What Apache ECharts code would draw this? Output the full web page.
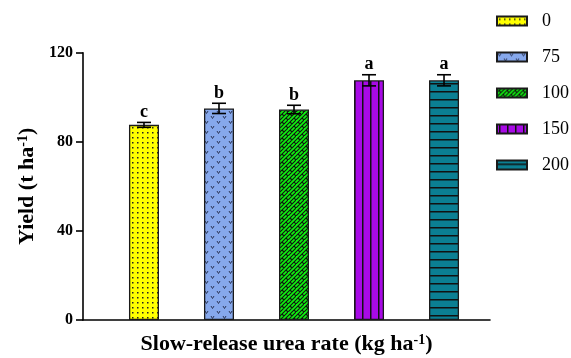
<!DOCTYPE html>
<html>
<head>
<meta charset="utf-8">
<script src="https://cdn.jsdelivr.net/npm/echarts@6/dist/echarts.min.js"></script>
<style>
    html, body { margin: 0; background: #ffffff; }
    #chart { width: 571px; height: 358px; }
</style>
</head>
<body>
<div id="chart"></div>
<script>
const rates = ["0", "75", "100", "150", "200"];
const yieldMeans = [87.6, 95.0, 94.5, 107.6, 107.6];
const yieldErrors = [1.1, 2.3, 1.9, 2.5, 2.5];
const groupLetters = ["c", "b", "b", "a", "a"];

const FONT = "Liberation Serif";

function makeTile(w, h, draw) {
    const canvas = document.createElement("canvas");
    canvas.width = w;
    canvas.height = h;
    draw(canvas.getContext("2d"), w, h);
    return canvas;
}

// fill patterns for each rate
const tiles = [
    makeTile(5, 5, (ctx, w, h) => {
        ctx.fillStyle = "#ffff00";
        ctx.fillRect(0, 0, w, h);
        ctx.fillStyle = "#222";
        ctx.fillRect(2, 2, 1.5, 1.5);
    }),
    makeTile(12, 10, (ctx, w, h) => {
        ctx.fillStyle = "#86a8ec";
        ctx.fillRect(0, 0, w, h);
        ctx.strokeStyle = "#2c3658";
        ctx.lineWidth = 1;
        const v = (x, y) => {
            ctx.beginPath();
            ctx.moveTo(x, y);
            ctx.lineTo(x + 1.5, y + 2.5);
            ctx.lineTo(x + 3, y);
            ctx.stroke();
        };
        v(1, 1);
        v(7, 6);
    }),
    makeTile(8, 8, (ctx, w, h) => {
        ctx.fillStyle = "#10f010";
        ctx.fillRect(0, 0, w, h);
        ctx.strokeStyle = "#111";
        ctx.lineWidth = 1.1;
        ctx.beginPath();
        ctx.moveTo(-2, 10); ctx.lineTo(10, -2);
        ctx.moveTo(-2, 6); ctx.lineTo(6, -2);
        ctx.moveTo(2, 10); ctx.lineTo(10, 2);
        ctx.moveTo(2, 2); ctx.lineTo(4, 4);
        ctx.moveTo(6, 6); ctx.lineTo(8, 8);
        ctx.stroke();
    }),
    makeTile(8, 4, (ctx, w, h) => {
        ctx.fillStyle = "#a80ae6";
        ctx.fillRect(0, 0, w, h);
        ctx.fillStyle = "#111";
        ctx.fillRect(2, 0, 1.5, h);
    }),
    makeTile(4, 8, (ctx, w, h) => {
        ctx.fillStyle = "#0b7f93";
        ctx.fillRect(0, 0, w, h);
        ctx.fillStyle = "#111";
        ctx.fillRect(0, 3, w, 1.5);
    })
];

const chart = echarts.init(document.getElementById("chart"));

const barSeries = rates.map((rate, i) => ({
    name: rate,
    type: "bar",
    barWidth: 30,
    barGap: "-100%",
    data: [[i, yieldMeans[i]]],
    itemStyle: {
        color: { image: tiles[i], repeat: "repeat" },
        borderColor: "#1a1a1a",
        borderWidth: 1.3
    }
}));

const errorSeries = {
    type: "custom",
    z: 5,
    data: yieldMeans.map((m, i) => [i, m, yieldErrors[i]]),
    renderItem: (params, api) => {
        const x = api.value(0);
        const m = api.value(1);
        const e = api.value(2);
        const top = api.coord([x, m + e]);
        const bot = api.coord([x, m - e]);
        const hw = 7;
        const lineStyle = { stroke: "#000", lineWidth: 1.6 };
        return {
            type: "group",
            children: [
                { type: "line", shape: { x1: top[0], y1: top[1], x2: bot[0], y2: bot[1] }, style: lineStyle },
                { type: "line", shape: { x1: top[0] - hw, y1: top[1], x2: top[0] + hw, y2: top[1] }, style: lineStyle },
                { type: "line", shape: { x1: bot[0] - hw, y1: bot[1], x2: bot[0] + hw, y2: bot[1] }, style: lineStyle },
                {
                    type: "text",
                    style: {
                        text: groupLetters[params.dataIndex],
                        x: top[0],
                        y: top[1] - 1,
                        align: "center",
                        verticalAlign: "bottom",
                        font: `bold 18px "${FONT}"`,
                        fill: "#000"
                    }
                }
            ]
        };
    }
};

chart.setOption({
    animation: false,
    textStyle: { fontFamily: FONT },
    grid: {
        left: 83,
        right: 81,
        top: 52.7,
        bottom: 38,
        outerBoundsMode: "none"
    },
    legend: {
        orient: "vertical",
        left: 496,
        top: 12,
        padding: 0,
        itemWidth: 30,
        itemHeight: 9,
        itemGap: 18,
        icon: "rect",
        data: rates,
        textStyle: {
            fontFamily: FONT,
            fontSize: 18,
            color: "#000",
            padding: [0, 0, 0, 10]
        }
    },
    xAxis: {
        type: "value",
        min: -0.813,
        max: 4.613,
        splitLine: { show: false },
        axisTick: { show: false },
        axisLabel: { show: false },
        axisLine: { show: true, onZero: false, lineStyle: { color: "#000", width: 1.6 } },
        name: "{a|Slow-release urea rate (kg ha}{s|-1}{a|)}",
        nameLocation: "middle",
        nameGap: 13,
        nameTextStyle: {
            rich: {
                a: { fontFamily: FONT, fontSize: 22, fontWeight: "bold", color: "#000" },
                s: { fontFamily: FONT, fontSize: 14, fontWeight: "bold", color: "#000", verticalAlign: "top" }
            }
        }
    },
    yAxis: {
        type: "value",
        min: 0,
        max: 120,
        interval: 40,
        splitLine: { show: false },
        axisLine: { show: true, onZero: false, lineStyle: { color: "#000", width: 1.6 } },
        axisTick: { show: true, inside: false, length: 7, lineStyle: { color: "#000", width: 1.6 } },
        axisLabel: {
            margin: 10,
            fontFamily: FONT,
            fontSize: 16,
            fontWeight: "bold",
            color: "#000"
        },
        name: "{a|Yield (t ha}{s|-1}{a|)}",
        nameLocation: "middle",
        nameGap: 44,
        nameTextStyle: {
            rich: {
                a: { fontFamily: FONT, fontSize: 22, fontWeight: "bold", color: "#000" },
                s: { fontFamily: FONT, fontSize: 14, fontWeight: "bold", color: "#000", verticalAlign: "top" }
            }
        }
    },
    series: [...barSeries, errorSeries]
});
</script>
</body>
</html>
